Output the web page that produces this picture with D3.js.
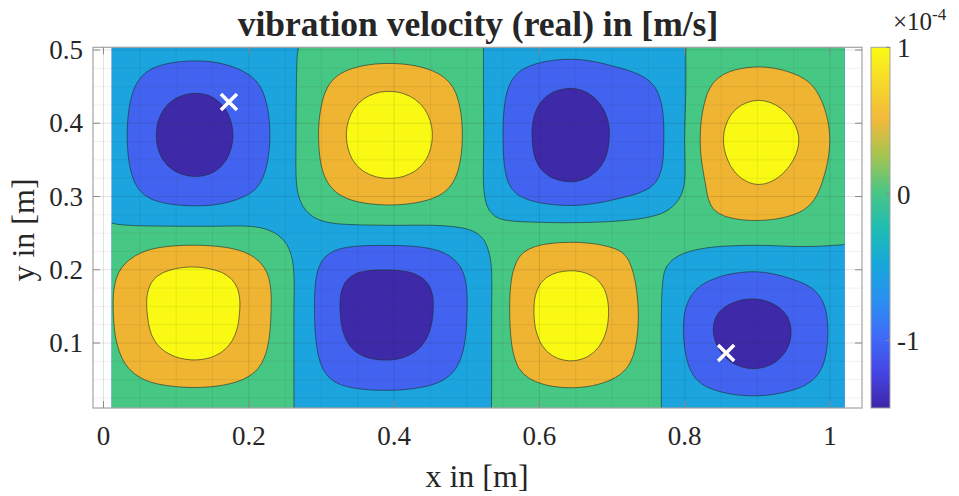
<!DOCTYPE html>
<html><head><meta charset="utf-8">
<script src="https://cdn.jsdelivr.net/npm/d3@7"></script>
<style>
body{margin:0;background:#fff}
svg{display:block}
text{font-family:"Liberation Serif","Times New Roman",serif;fill:#262626}
</style>
</head><body>
<svg id="chart" width="959" height="496"></svg>
<script>
// ---------------- data (velocity in 1e-4 m/s) ----------------
// measured grid: 17 columns (x) by 9 rows (y), rows listed from top (y max) to bottom (y min)
const gridXRange = [0.0113, 1.0200];
const gridYRange = [0.0113, 0.5037];
const velRow8 = [-0.023,-0.181,-0.222,-0.140,-0.010, 0.112, 0.155, 0.121, 0.019,-0.170,-0.244,-0.181,-0.095, 0.078, 0.140, 0.109, 0.028];
const velRow7 = [-0.115,-0.923,-1.130,-0.715,-0.020, 0.569, 0.790, 0.616, 0.095,-0.847,-1.212,-0.901,-0.473, 0.392, 0.700, 0.546, 0.140];
const velRow6 = [-0.146,-1.168,-1.431,-0.905,-0.020, 0.720, 1.000, 0.780, 0.120,-1.020,-1.460,-1.085,-0.570, 0.540, 1.000, 0.780, 0.200];
const velRow5 = [-0.107,-0.857,-1.050,-0.664,-0.020, 0.528, 0.734, 0.573, 0.088,-0.796,-1.139,-0.846,-0.445, 0.430, 0.790, 0.616, 0.158];
const velRow4 = [ 0.020, 0.030, 0.030, 0.020,-0.080,-0.060,-0.050,-0.040, 0.030, 0.100, 0.120, 0.120, 0.150, 0.250, 0.300, 0.250, 0.100];
const velRow3 = [ 0.333, 0.753, 0.840, 0.595,-0.018,-1.000,-1.200,-1.000,-0.254, 0.560, 0.800, 0.600, 0.030,-0.378,-0.540,-0.389,-0.180];
const velRow2 = [ 0.380, 0.860, 0.980, 0.680,-0.020,-1.153,-1.460,-1.153,-0.290, 0.650, 1.000, 0.705, 0.000,-1.022,-1.460,-1.000,-0.200];
const velRow1 = [ 0.289, 0.654, 0.745, 0.517,-0.015,-0.876,-1.110,-0.876,-0.220, 0.494, 0.760, 0.536, 0.000,-0.869,-1.241,-0.894,-0.170];
const velRow0 = [ 0.023, 0.052, 0.059, 0.041,-0.001,-0.069,-0.088,-0.069,-0.017, 0.039, 0.060, 0.042, 0.000,-0.157,-0.225,-0.162,-0.040];
const velocityRows = [velRow8, velRow7, velRow6, velRow5, velRow4, velRow3, velRow2, velRow1, velRow0];

const contourLevels = [-1.15, -0.52, 0, 0.40, 0.78];
const bandColors = ['#3e2aa9', '#4263ef', '#1ba4de', '#47c784', '#efb431', '#f9f914'];
const colorRange = [-1.46, 1.0];
const xTicks = [0, 0.2, 0.4, 0.6, 0.8, 1];
const yTicks = [0.1, 0.2, 0.3, 0.4, 0.5];
const cbTicks = [-1, 0, 1];
const markerX = [0.1727, 0.857];
const markerY = [0.429, 0.0863];
const titleText = 'vibration velocity (real) in [m/s]';
const xLabel = 'x in [m]';
const yLabel = 'y in [m]';

// parula-like colormap anchors for the colorbar
const parulaStops = ['#3e26a8','#4545e5','#3f6cf9','#2a8ff0','#16a8da','#1fbdb2','#4bc684','#a6c450','#f2b93c','#f6d82a','#f9fb14'];

// ---------------- layout ----------------
const svg = d3.select('#chart');
const L = 93, R = 862, T = 47.3, B = 408;
const x = d3.scaleLinear().domain([-0.01445, 1.04405]).range([L, R]);
const y = d3.scaleLinear().domain([0.0113, 0.5037]).range([B, T]);

// ---------------- surface reconstruction (cubic) for smooth contours ----------------
const up = 8;
function cr(p0,p1,p2,p3,t){return 0.5*(2*p1+(-p0+p2)*t+(2*p0-5*p1+4*p2-p3)*t*t+(-p0+3*p1-3*p2+p3)*t*t*t);}
function at(a,i){const n=a.length; if(i<0) return 2*a[0]-a[1]; if(i>=n) return 2*a[n-1]-a[n-2]; return a[i];}
function resample(a,m){const out=[];const N=(a.length-1)*m+1;for(let k=0;k<N;k++){const i=Math.min(Math.floor(k/m),a.length-2);const t=k/m-i;out.push(cr(at(a,i-1),at(a,i),at(a,i+1),at(a,i+2),t));}return out;}
const rowsUp = velocityRows.map(r=>resample(r,up));
const fx = rowsUp[0].length;
const fy = (velocityRows.length-1)*up+1;
const field = new Float64Array(fx*fy);
for(let c=0;c<fx;c++){const col=rowsUp.map(r=>r[c]);const cu=resample(col,up);for(let r=0;r<fy;r++) field[r*fx+c]=cu[r];}

const gx = c => gridXRange[0] + (c-0.5)*(gridXRange[1]-gridXRange[0])/(fx-1);
const gy = r => gridYRange[1] - (r-0.5)*(gridYRange[1]-gridYRange[0])/(fy-1);
const proj = d3.geoTransform({point(px,py){this.stream.point(x(gx(px)), y(gy(py)));}});
const path = d3.geoPath(proj);
const contours = d3.contours().size([fx,fy]).thresholds(contourLevels)(Array.from(field));

// clip to data extent
const defs = svg.append('defs');
defs.append('clipPath').attr('id','dataClip').append('rect')
  .attr('x', x(gridXRange[0])).attr('y', y(gridYRange[1]))
  .attr('width', x(gridXRange[1])-x(gridXRange[0])).attr('height', y(gridYRange[0])-y(gridYRange[1]));

// axes background
svg.append('rect').attr('x',L).attr('y',T).attr('width',R-L).attr('height',B-T).attr('fill','#fff');

const gFill = svg.append('g').attr('clip-path','url(#dataClip)');
gFill.append('rect')
  .attr('x', x(gridXRange[0])).attr('y', y(gridYRange[1]))
  .attr('width', x(gridXRange[1])-x(gridXRange[0])).attr('height', y(gridYRange[0])-y(gridYRange[1]))
  .attr('fill', bandColors[0]);
gFill.selectAll('path.band').data(contours).join('path').attr('class','band')
  .attr('d', path).attr('fill', (d,i)=>bandColors[i+1]).attr('stroke','none');
gFill.selectAll('path.iso').data(contours).join('path').attr('class','iso')
  .attr('d', path).attr('fill','none').attr('stroke','#1e2a2a').attr('stroke-opacity',0.75).attr('stroke-width',0.8);

// grid lines on top
const gGrid = svg.append('g');
const xMinor = d3.range(0, 1.0001, 0.05);
const yMinor = d3.range(0.025, 0.5001, 0.025);
gGrid.selectAll('line.vx').data(xMinor).join('line').attr('class','vx')
  .attr('x1',d=>x(d)).attr('x2',d=>x(d)).attr('y1',T).attr('y2',B)
  .attr('stroke','#262626').attr('stroke-opacity',d=>xTicks.some(t=>Math.abs(t-d)<1e-6)?0.13:0.07).attr('stroke-width',1);
gGrid.selectAll('line.hy').data(yMinor).join('line').attr('class','hy')
  .attr('x1',L).attr('x2',R).attr('y1',d=>y(d)).attr('y2',d=>y(d))
  .attr('stroke','#262626').attr('stroke-opacity',d=>yTicks.some(t=>Math.abs(t-d)<1e-6)?0.13:0.07).attr('stroke-width',1);

// box and ticks
svg.append('rect').attr('x',L).attr('y',T).attr('width',R-L).attr('height',B-T)
  .attr('fill','none').attr('stroke','#a3a3a3').attr('stroke-width',1.2);
const tl = 7;
const gT = svg.append('g').attr('stroke','#8a8a8a').attr('stroke-width',1);
xTicks.forEach(t=>{
  gT.append('line').attr('x1',x(t)).attr('x2',x(t)).attr('y1',B).attr('y2',B-tl);
  gT.append('line').attr('x1',x(t)).attr('x2',x(t)).attr('y1',T).attr('y2',T+tl);
});
yTicks.forEach(t=>{
  gT.append('line').attr('x1',L).attr('x2',L+tl).attr('y1',y(t)).attr('y2',y(t));
  gT.append('line').attr('x1',R).attr('x2',R-tl).attr('y1',y(t)).attr('y2',y(t));
});

// tick labels
svg.selectAll('text.xt').data(xTicks).join('text').attr('class','xt')
  .attr('x',d=>x(d)).attr('y',445).attr('text-anchor','middle').attr('font-size',27).text(d=>String(d));
svg.selectAll('text.yt').data(yTicks).join('text').attr('class','yt')
  .attr('x',83).attr('y',d=>y(d)).attr('dy','0.34em').attr('text-anchor','end').attr('font-size',27).text(d=>String(d));

// axis labels and title
svg.append('text').attr('x',477).attr('y',487).attr('text-anchor','middle').attr('font-size',32).text(xLabel);
svg.append('text').attr('transform','translate(34,230) rotate(-90)').attr('text-anchor','middle').attr('font-size',32).text(yLabel);
svg.append('text').attr('x',478).attr('y',36).attr('text-anchor','middle').attr('font-size',35.5).attr('font-weight','bold').text(titleText);

// markers
svg.selectAll('path.mk').data(markerX.map((v,i)=>[v,markerY[i]])).join('path').attr('class','mk')
  .attr('transform',d=>`translate(${x(d[0])},${y(d[1])})`)
  .attr('d', d3.symbol().type(d3.symbolX).size(170)())
  .attr('fill','none').attr('stroke','#fff').attr('stroke-width',3.5);

// colorbar
const cbX = 871, cbW = 19;
const yc = d3.scaleLinear().domain(colorRange).range([B, T]);
const parula = d3.scaleLinear().domain(d3.range(parulaStops.length).map(i=>i/(parulaStops.length-1))).range(parulaStops).interpolate(d3.interpolateRgb);
const grad = defs.append('linearGradient').attr('id','cbGrad').attr('x1',0).attr('y1',1).attr('x2',0).attr('y2',0);
d3.range(0,1.0001,0.02).forEach(f=>grad.append('stop').attr('offset',f).attr('stop-color',parula(f)));
svg.append('rect').attr('x',cbX).attr('y',T).attr('width',cbW).attr('height',B-T).attr('fill','url(#cbGrad)')
  .attr('stroke','#a3a3a3').attr('stroke-width',1);
cbTicks.forEach(t=>{
  svg.append('line').attr('x1',cbX+cbW).attr('x2',cbX+cbW-4).attr('y1',yc(t)).attr('y2',yc(t)).attr('stroke','#8a8a8a');
});
svg.selectAll('text.ct').data(cbTicks).join('text').attr('class','ct')
  .attr('x',897).attr('y',d=>yc(d)).attr('dy','0.36em').attr('font-size',27).text(d=>String(d));
const ex = svg.append('text').attr('x',893).attr('y',30).attr('font-size',25);
ex.append('tspan').attr('font-size',25).text('\u00d710');
ex.append('tspan').attr('dy',-10).attr('font-size',17).text('-4');
</script>
</body></html>
